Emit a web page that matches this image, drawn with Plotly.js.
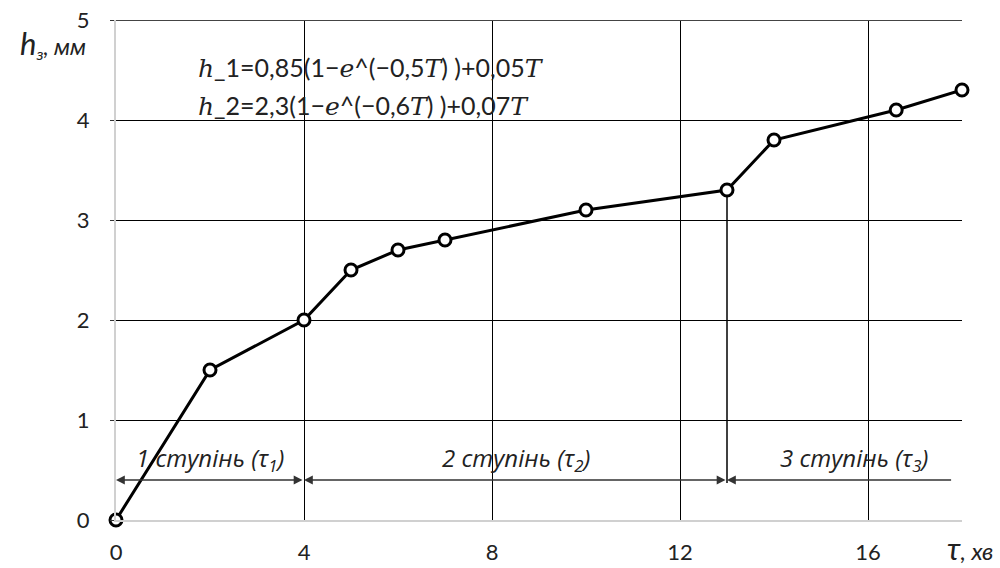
<!DOCTYPE html>
<html>
<head>
<meta charset="utf-8">
<script src="https://cdn.plot.ly/plotly-3.0.1.min.js"></script>
<style>
  html, body { margin: 0; padding: 0; background: #fff; }
  #chart { width: 1000px; height: 568px; }
</style>
</head>
<body>
<div id="chart"></div>
<script>
// Wear depth h (mm) versus time τ (min)
const tau = [0, 2, 4, 5, 6, 7, 10, 13, 14, 16.6, 18];
const hWear = [0, 1.5, 2, 2.5, 2.7, 2.8, 3.1, 3.3, 3.8, 4.1, 4.3];

// Stage boundaries on the time axis and their labels
const stageStart = [0, 4, 13];
const stageEnd = [4, 13, 17.8];
const stageLabels = [
  '1 ступінь (τ<sub>1</sub>)',
  '2 ступінь (τ<sub>2</sub>)',
  '3 ступінь (τ<sub>3</sub>)'
];
const stageArrowLevel = 0.4;

// Tick labels
const xTicks = [0, 4, 8, 12, 16];
const yTicks = [0, 1, 2, 3, 4, 5];

// Fitted wear equations
const mathStyle = 'font-family:\'DejaVu Serif\';font-style:italic';
const m = s => `<span style="${mathStyle}">${s}</span>`;
const equations = [
  `${m('h')}_1=0,85(1−${m('e')}^(−0,5${m('T')}) )+0,05${m('T')}`,
  `${m('h')}_2=2,3(1−${m('e')}^(−0,6${m('T')}) )+0,07${m('T')}`
];

const family = 'Lato, "Open Sans", sans-serif';
const tickFont = { family: family, size: 22, color: '#222' };
const labelFont = { family: '"Open Sans", Lato, sans-serif', size: 24, color: '#222' };

const trace = {
  x: tau,
  y: hWear,
  type: 'scatter',
  mode: 'lines+markers',
  line: { color: '#000', width: 3 },
  marker: { symbol: 'circle', size: 12, color: '#fff', line: { color: '#000', width: 3 } },
  cliponaxis: false,
  hoverinfo: 'x+y',
  showlegend: false
};

const annotations = [];
const shapes = [];

// Stage arrows: the first two point both ways, the last one only towards its start
stageStart.forEach((s, i) => {
  annotations.push({
    x: s, y: stageArrowLevel, xref: 'x', yref: 'y',
    ax: stageEnd[i], ay: stageArrowLevel, axref: 'x', ayref: 'y',
    text: '', showarrow: true,
    arrowhead: 2, startarrowhead: 2, arrowsize: 1.1, startarrowsize: 1.1,
    arrowwidth: 1.6, arrowcolor: '#333',
    arrowside: i < 2 ? 'end+start' : 'end',
    standoff: 0, startstandoff: 0
  });
  annotations.push({
    x: (s + stageEnd[i]) / 2 + (i === 2 ? 0.3 : 0), y: stageArrowLevel,
    xref: 'x', yref: 'y', yanchor: 'bottom', yshift: 1,
    text: '<i>' + stageLabels[i] + '</i>',
    showarrow: false, font: labelFont
  });
});

// Boundary between stage 2 and stage 3
shapes.push({
  type: 'line', xref: 'x', yref: 'y',
  x0: stageStart[2], x1: stageStart[2], y0: stageArrowLevel - 0.03, y1: hWear[tau.indexOf(stageStart[2])],
  line: { color: '#000', width: 1.5 }, layer: 'below'
});

// Upper frame line
shapes.push({
  type: 'line', xref: 'paper', yref: 'y', x0: 0, x1: 1, y0: 5, y1: 5,
  line: { color: '#444', width: 2 }
});

// Equations
const eqY = [0.904, 0.83];
equations.forEach((eq, i) => {
  annotations.push({
    xref: 'paper', yref: 'paper', x: 0.095, y: eqY[i],
    xanchor: 'left', yanchor: 'middle',
    text: eq, showarrow: false,
    font: { family: family, size: 25, color: '#222' }
  });
});

// Axis titles
annotations.push({
  xref: 'paper', yref: 'paper', x: -0.033, y: 0.954, xanchor: 'right', yanchor: 'middle',
  text: '<i><span style="font-size:31px">h</span><sub>з</sub>, мм</i>',
  showarrow: false, font: { family: family, size: 23, color: '#222' }
});
annotations.push({
  xref: 'paper', yref: 'paper', x: 1.039, y: -0.056, xanchor: 'right', yanchor: 'middle',
  text: '<i><span style="font-size:31px">τ</span>, хв</i>',
  showarrow: false, font: { family: family, size: 24, color: '#222' }
});

const layout = {
  width: 1000, height: 568,
  margin: { l: 116, r: 38, t: 20, b: 48 },
  paper_bgcolor: '#fff', plot_bgcolor: '#fff',
  font: tickFont,
  xaxis: {
    range: [0, 18], tickvals: xTicks, ticktext: xTicks.map(String),
    showgrid: true, gridcolor: '#000', gridwidth: 1,
    zeroline: false, showline: true, linecolor: '#d0d0d0', linewidth: 2,
    ticks: '', ticklabelstandoff: 12,
    tickfont: tickFont, fixedrange: true
  },
  yaxis: {
    range: [0, 5], tickvals: yTicks, ticktext: yTicks.map(String),
    showgrid: true, gridcolor: '#000', gridwidth: 1,
    zeroline: false, showline: true, linecolor: '#d0d0d0', linewidth: 2,
    ticks: 'outside', ticklen: 4, tickcolor: '#333', ticklabelstandoff: 16,
    tickfont: tickFont, fixedrange: true
  },
  shapes: shapes,
  annotations: annotations
};

Plotly.newPlot('chart', [trace], layout, { displayModeBar: false, staticPlot: true });
</script>
</body>
</html>
